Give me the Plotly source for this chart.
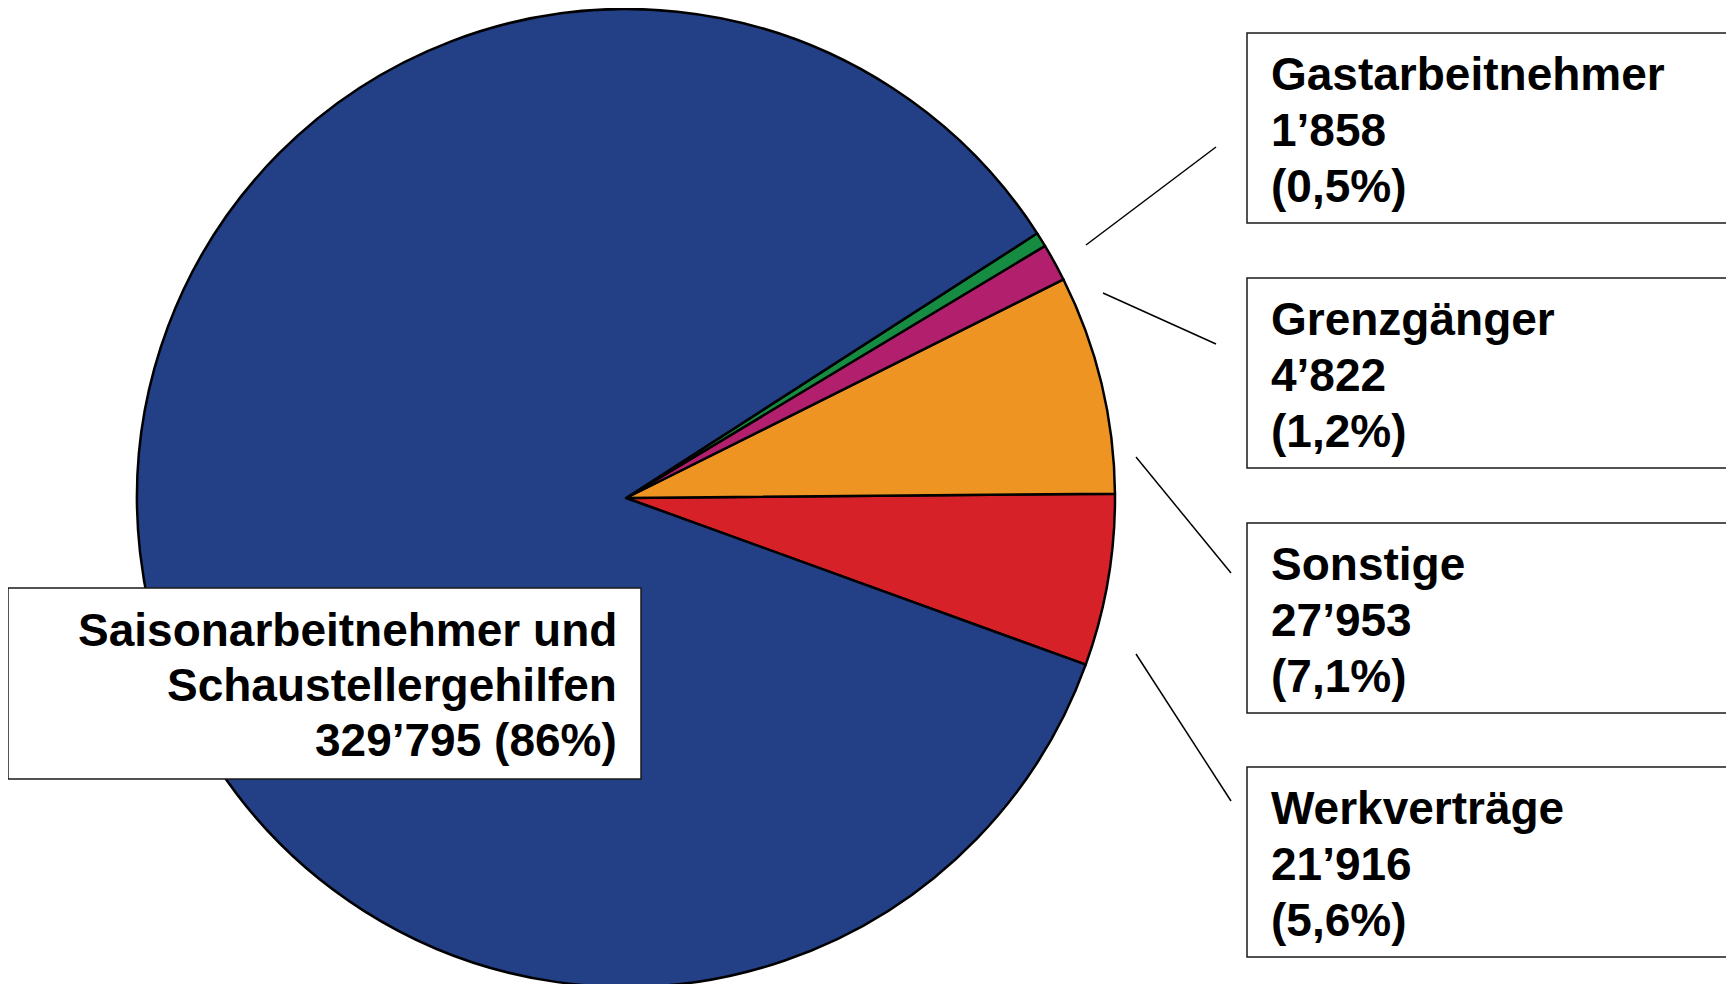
import plotly.graph_objects as go

# Data (slice order = counterclockwise from the 3 o'clock boundary)
labels = ["Werkverträge", "Sonstige", "Grenzgänger", "Gastarbeitnehmer",
          "Saisonarbeitnehmer und<br>Schaustellergehilfen"]
values = [21916, 27953, 4822, 1858, 329795]
pct_text = ["5,6%", "7,1%", "1,2%", "0,5%", "86%"]
colors = ["#D62128", "#EE9422", "#B11F6D", "#168C43", "#233F86"]

W, H = 1734, 984
OFF = 8  # page body margin


def px(x):
    return (x - OFF) / W


def py(y):
    return 1 - (y - OFF) / H


def fmt(v):
    return f"{v:,}".replace(",", "\u2019")


fig = go.Figure()

fig.add_trace(go.Pie(
    labels=labels,
    values=values,
    marker=dict(colors=colors, line=dict(color="black", width=2.5)),
    sort=False,
    direction="counterclockwise",
    rotation=89.5,
    textinfo="none",
    hoverinfo="label+value+percent",
    domain=dict(x=[px(626 - 489), px(626 + 489)], y=[py(987), py(9)]),
    showlegend=False,
))

shapes = []
annotations = []
font = dict(family="Liberation Sans, Arial, sans-serif", size=46, color="black")

# right-hand boxes (top pixel of each box), same order as the first four slices
box_tops = [767, 523, 278, 33]
leaders = [((1136, 654), (1231, 801)),
           ((1136, 457), (1231, 573)),
           ((1103, 293), (1216, 344)),
           ((1086, 245), (1216, 147))]

for i in range(4):
    top = box_tops[i]
    shapes.append(dict(type="rect", xref="paper", yref="paper",
                       x0=px(1247), x1=px(1760), y0=py(top), y1=py(top + 190),
                       line=dict(color="#1a1a1a", width=1.5), fillcolor="white"))
    (x0, y0), (x1, y1) = leaders[i]
    shapes.append(dict(type="line", xref="paper", yref="paper",
                       x0=px(x0), y0=py(y0), x1=px(x1), y1=py(y1),
                       line=dict(color="black", width=1.5)))
    lines = [labels[i], fmt(values[i]), "(" + pct_text[i] + ")"]
    for k, t in enumerate(lines):
        annotations.append(dict(text="<b>" + t + "</b>", xref="paper", yref="paper",
                                x=px(1269), y=py(top + 41 + 56 * k),
                                xanchor="left", yanchor="middle",
                                showarrow=False, font=font))

# left box for the big slice
shapes.append(dict(type="rect", xref="paper", yref="paper",
                   x0=px(8), x1=px(641), y0=py(588), y1=py(779),
                   line=dict(color="#1a1a1a", width=1.5), fillcolor="white"))
big_lines = labels[4].split("<br>") + [fmt(values[4]) + " (" + pct_text[4] + ")"]
for k, t in enumerate(big_lines):
    annotations.append(dict(text="<b>" + t + "</b>", xref="paper", yref="paper",
                            x=px(619), y=py(588 + 42 + 55 * k),
                            xanchor="right", yanchor="middle",
                            showarrow=False, font=font))

fig.update_layout(
    width=W, height=H,
    margin=dict(l=0, r=0, t=0, b=0),
    paper_bgcolor="white",
    plot_bgcolor="white",
    shapes=shapes,
    annotations=annotations,
)

fig.write_html("out.html")
